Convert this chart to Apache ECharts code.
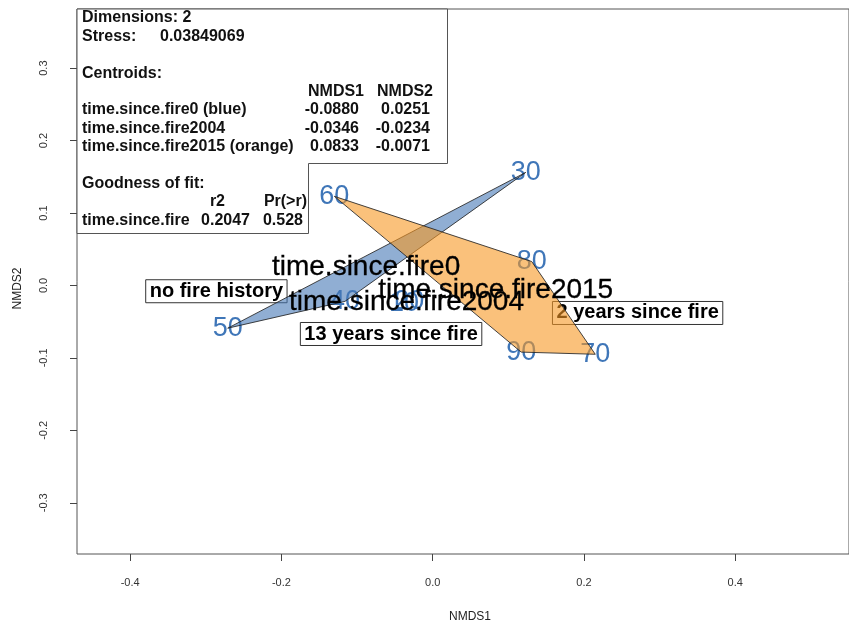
<!DOCTYPE html>
<html>
<head>
<meta charset="utf-8">
<title>NMDS ordination</title>
<script src="https://cdn.jsdelivr.net/npm/echarts@6/dist/echarts.min.js"></script>
<style>
  html, body { margin: 0; padding: 0; background: #ffffff; }
  #chart { width: 849px; height: 628px; }
</style>
</head>
<body>
<div id="chart"></div>
<script>
// ---- ordination results ----
const siteNames = ['10', '20', '30', '40', '50', '60', '70', '80', '90'];
const siteNMDS1 = [-0.038, -0.031, 0.123, -0.116, -0.271, -0.130, 0.215, 0.131, 0.117];
const siteNMDS2 = [-0.025, -0.0218, 0.156, -0.022, -0.059, 0.123, -0.095, 0.033, -0.092];

// convex hulls drawn for two of the groups (site names in drawing order)
const hullFire0 = ['50', '40', '30'];
const hullFire2015 = ['60', '80', '70', '90'];

// group centroids
const centroidRows = ['time.since.fire0 (blue)', 'time.since.fire2004', 'time.since.fire2015 (orange)'];
const centroidLabels = ['time.since.fire0', 'time.since.fire2004', 'time.since.fire2015'];
const centroidNMDS1 = [-0.0880, -0.0346, 0.0833];
const centroidNMDS2 = [0.0251, -0.0234, -0.0071];

// fit statistics
const dimensions = 2;
const stress = '0.03849069';
const fitR2 = '0.2047';
const fitP = '0.528';

// boxed group descriptions, placed at ordination coordinates
const noteTexts = ['no fire history', '13 years since fire', '2 years since fire'];
const noteNMDS1 = [-0.286, -0.055, 0.271];
const noteNMDS2 = [-0.008, -0.067, -0.038];

// axis ticks
const xTicks = [-0.4, -0.2, 0.0, 0.2, 0.4];
const yTicks = [-0.3, -0.2, -0.1, 0.0, 0.1, 0.2, 0.3];

// ---- drawing ----
const FONT = '"Liberation Sans", Arial, Helvetica, sans-serif';
const chart = echarts.init(document.getElementById('chart'), null, { renderer: 'canvas' });

function hullSeries(names, fill, z) {
  const pts = names.map(n => {
    const i = siteNames.indexOf(n);
    return [siteNMDS1[i], siteNMDS2[i]];
  });
  return {
    type: 'custom',
    z: z,
    silent: true,
    clip: false,
    data: pts,
    renderItem: function (params, api) {
      if (params.dataIndex !== 0) return null;
      return {
        type: 'polygon',
        shape: { points: pts.map(p => api.coord(p)) },
        style: { fill: fill, stroke: 'rgba(35,35,35,0.85)', lineWidth: 1 }
      };
    }
  };
}

// statistics box drawn in the top-left corner of the plot region
const boxLeft = 77, boxTop = 9;
const lh = 18.4;
const rowY = i => 18 + lh * i;
const tStyle = (text, x, y, align) => ({
  type: 'text',
  x: x, y: y,
  z: 20,
  silent: true,
  style: {
    text: text,
    font: 'bold 16px ' + FONT,
    fill: '#111111',
    align: align || 'left',
    verticalAlign: 'middle'
  }
});
const fmt4 = v => v.toFixed(4);
const statsGraphics = [
  {
    type: 'polygon',
    z: 19,
    silent: true,
    shape: { points: [[boxLeft, boxTop], [447.5, boxTop], [447.5, 163.5], [308.5, 163.5], [308.5, 233.5], [boxLeft, 233.5]] },
    style: { fill: '#ffffff', stroke: '#555555', lineWidth: 1 }
  },
  tStyle('Dimensions: ' + dimensions, 82, rowY(0)),
  tStyle('Stress:', 82, rowY(1)),
  tStyle(stress, 160, rowY(1)),
  tStyle('Centroids:', 82, rowY(3)),
  tStyle('NMDS1', 364, rowY(4), 'right'),
  tStyle('NMDS2', 433, rowY(4), 'right'),
  tStyle('Goodness of fit:', 82, rowY(9)),
  tStyle('r2', 225, rowY(10), 'right'),
  tStyle('Pr(>r)', 307, rowY(10), 'right'),
  tStyle('time.since.fire', 82, rowY(11)),
  tStyle(fitR2, 250, rowY(11), 'right'),
  tStyle(fitP, 303, rowY(11), 'right')
];
centroidRows.forEach((name, i) => {
  statsGraphics.push(tStyle(name, 82, rowY(5 + i)));
  statsGraphics.push(tStyle(fmt4(centroidNMDS1[i]), 359, rowY(5 + i), 'right'));
  statsGraphics.push(tStyle(fmt4(centroidNMDS2[i]), 430, rowY(5 + i), 'right'));
});

// invisible anchor symbol for text-only scatter marks
const anchorStyle = { color: 'rgba(0,0,0,0)', opacity: 1 };

const option = {
  animation: false,
  backgroundColor: '#ffffff',
  textStyle: { fontFamily: FONT },
  grid: {
    left: 77, top: 9, right: -2, bottom: 66,
    show: true, borderColor: '#555555', borderWidth: 1, backgroundColor: 'transparent'
  },
  xAxis: {
    type: 'value',
    min: -0.4703, max: 0.5505,
    name: 'NMDS1', nameLocation: 'middle', nameGap: 57,
    nameTextStyle: { fontSize: 12, color: '#222222', fontFamily: FONT, padding: [0, 0, 0, 14] },
    axisLine: { show: false, onZero: false },
    splitLine: { show: false },
    axisTick: { show: true, customValues: xTicks, length: 7, lineStyle: { color: '#444444' } },
    axisLabel: {
      customValues: xTicks, margin: 23, fontSize: 11, color: '#333333', fontFamily: FONT,
      formatter: v => v.toFixed(1)
    }
  },
  yAxis: {
    type: 'value',
    min: -0.3707, max: 0.3816,
    name: 'NMDS2', nameLocation: 'middle', nameGap: 53, nameRotate: 90,
    nameTextStyle: { fontSize: 12, color: '#222222', fontFamily: FONT, padding: [0, 14, 0, 0] },
    axisLine: { show: false, onZero: false },
    splitLine: { show: false },
    axisTick: { show: true, customValues: yTicks, length: 7, lineStyle: { color: '#444444' } },
    axisLabel: {
      customValues: yTicks, margin: 28, fontSize: 11, color: '#333333', fontFamily: FONT,
      rotate: 90, formatter: v => v.toFixed(1)
    }
  },
  series: [
    {
      name: 'sites',
      type: 'scatter',
      z: 2,
      silent: true,
      symbolSize: 1,
      itemStyle: anchorStyle,
      label: {
        show: true, position: 'inside', formatter: p => p.name,
        fontSize: 27, color: '#3f76b8', fontFamily: FONT, textBorderWidth: 0
      },
      data: siteNames.map((n, i) => ({ name: n, value: [siteNMDS1[i], siteNMDS2[i]] }))
    },
    {
      name: 'notes',
      type: 'scatter',
      z: 2,
      silent: true,
      symbolSize: 1,
      itemStyle: anchorStyle,
      label: {
        show: true, position: 'inside', formatter: p => p.name,
        fontSize: 20, fontWeight: 'bold', color: '#000000', fontFamily: FONT,
        textBorderWidth: 0,
        borderColor: '#333333', borderWidth: 1, padding: [2, 4, 1, 4]
      },
      data: noteTexts.map((n, i) => ({ name: n, value: [noteNMDS1[i], noteNMDS2[i]] }))
    },
    hullSeries(hullFire0, 'rgba(70,120,182,0.6)', 3),
    hullSeries(hullFire2015, 'rgba(247,152,35,0.6)', 4),
    {
      name: 'centroids',
      type: 'scatter',
      z: 5,
      silent: true,
      symbolSize: 1,
      itemStyle: anchorStyle,
      label: {
        show: true, position: 'inside', formatter: p => p.name,
        fontSize: 28, color: '#000000', fontFamily: FONT,
        textBorderColor: '#000000', textBorderWidth: 0.3
      },
      data: centroidLabels.map((n, i) => ({ name: n, value: [centroidNMDS1[i], centroidNMDS2[i]] }))
    }
  ],
  graphic: statsGraphics
};

chart.setOption(option);
</script>
</body>
</html>
